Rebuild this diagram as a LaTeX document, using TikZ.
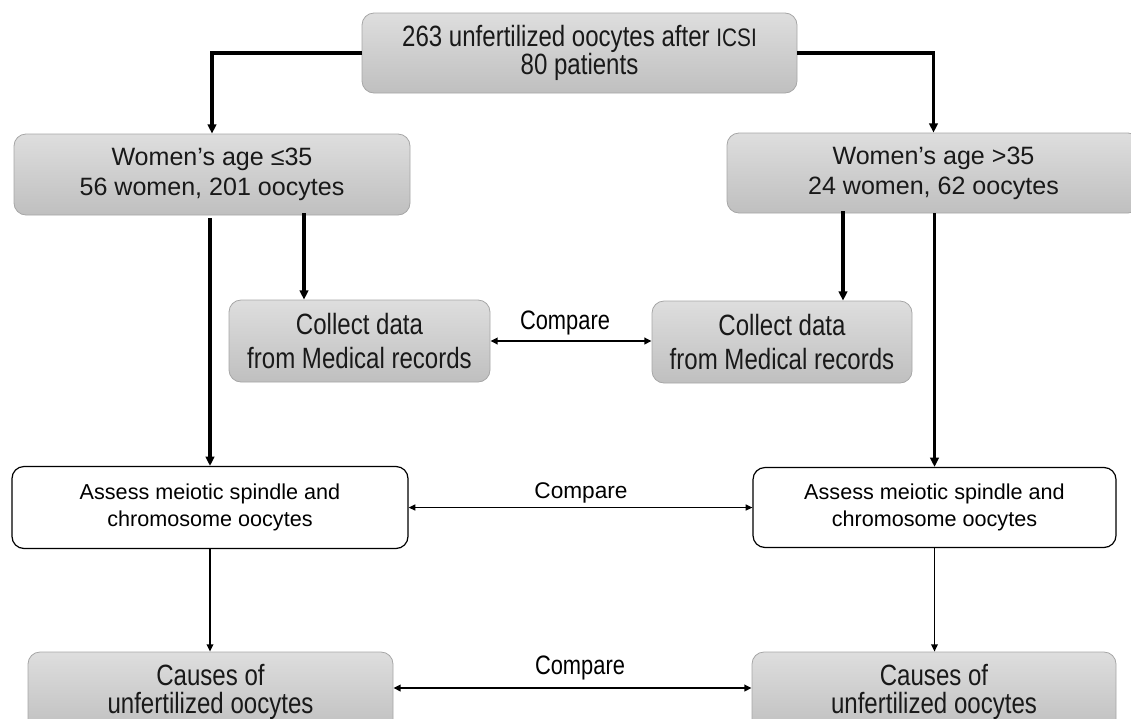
\documentclass[tikz,border=0pt]{standalone}
\usepackage{fontspec}
\setmainfont{Liberation Sans}
\newfontfamily\narrowfont[FakeStretch=0.82]{Liberation Sans}
\usetikzlibrary{arrows.meta,calc}
\tikzset{
  graybox/.style={draw=black!35, line width=0.6pt, rounded corners=9pt,
    top color=black!13, bottom color=black!25, text=black!90,
    minimum width=#1, inner sep=0pt, align=center},
  whitebox/.style={draw=black, line width=0.9pt, rounded corners=9pt, fill=white,
    minimum width=#1, inner sep=0pt, align=center,
    font={\fontsize{16.2}{20.25}\selectfont}},
  narrowtxt/.style={font={\narrowfont\fontsize{22}{21.5}\selectfont}},
  collecttxt/.style={font={\narrowfont\fontsize{22}{25}\selectfont}},
  womentxt/.style={font={\fontsize{18.8}{22.5}\selectfont}},
  thickarr/.style={line width=2.3pt, -{Triangle[length=7pt,width=6.5pt]}},
  thinarr/.style={line width=1.1pt, -{Triangle[length=5.5pt,width=5pt]}},
  cmparr/.style={line width=1.6pt, {Triangle[length=5.5pt,width=5pt]}-{Triangle[length=5.5pt,width=5pt]}},
  cmpthin/.style={line width=1.1pt, {Triangle[length=5pt,width=4.5pt]}-{Triangle[length=5pt,width=4.5pt]}},
}
\begin{document}
\begin{tikzpicture}[x=0.75pt,y=-0.75pt]
\useasboundingbox (0,0) rectangle (1131,718);
\clip (0,0) rectangle (1131,718);
% nodes
\node[graybox=435*0.75pt, minimum height=80*0.75pt, narrowtxt] (top) at (579.5,53)
  {263 unfertilized oocytes after {\fontsize{19}{19}\selectfont ICSI}\\80 patients};
\node[graybox=396*0.75pt, minimum height=81*0.75pt, womentxt] (wl) at (212,174.5)
  {Women’s age ≤35\\56 women, 201 oocytes};
\node[graybox=413*0.75pt, minimum height=80*0.75pt, womentxt] (wr) at (933.5,173)
  {Women’s age >35\\24 women, 62 oocytes};
\node[graybox=261*0.75pt, minimum height=82*0.75pt, collecttxt] (cl) at (359.5,341)
  {Collect data\\from Medical records};
\node[graybox=260*0.75pt, minimum height=82*0.75pt, collecttxt] (cr) at (782,342)
  {Collect data\\from Medical records};
\node[whitebox=396*0.75pt, minimum height=82*0.75pt] (al) at (210,507.5)
  {Assess meiotic spindle and\\chromosome oocytes};
\node[whitebox=363*0.75pt, minimum height=80*0.75pt] (ar) at (934.5,507.5)
  {Assess meiotic spindle and\\chromosome oocytes};
\node[graybox=365*0.75pt, minimum height=80*0.75pt, narrowtxt] (bl) at (210.5,692)
  {Causes of\\unfertilized oocytes};
\node[graybox=364*0.75pt, minimum height=80*0.75pt, narrowtxt] (br) at (934,692)
  {Causes of\\unfertilized oocytes};
% helper coordinates
\coordinate (c1) at ($(cl.north)+(-55.5,-2)$);
\coordinate (c2) at ($(cr.north)+(61,-2)$);
% connectors
\draw[thickarr] (top.west) -| (wl.north);
\draw[thickarr] (top.east) -| (wr.north);
\draw[thickarr] ($(wl.south -| c1)+(0,-2)$) -- (cl.north -| c1);
\draw[thickarr] ($(wr.south -| c2)+(0,-2)$) -- (cr.north -| c2);
\draw[thickarr] ($(wl.south -| al.north)+(0,3)$) -- (al.north);
\draw[thickarr] (wr.south -| ar.north) -- (ar.north);
\draw[cmparr] (cl.east) -- (cl.east -| cr.west);
\draw[cmpthin] (al.east) -- (al.east -| ar.west);
\draw[thinarr] (al.south) -- (bl.north -| al.south);
\draw[thinarr] (ar.south) -- (br.north -| ar.south);
\draw[cmparr] ($(bl.east)+(0,-4)$) -- ($(bl.east -| br.west)+(0,-4)$);
% labels
\node[font={\narrowfont\fontsize{20}{20}\selectfont}] (lab1) at (565,323) {Compare};
\node[font={\fontsize{17}{17}\selectfont}] (lab2) at (581,493) {Compare};
\node[font={\narrowfont\fontsize{20}{20}\selectfont}] (lab3) at (580,668) {Compare};
\end{tikzpicture}
\end{document}
